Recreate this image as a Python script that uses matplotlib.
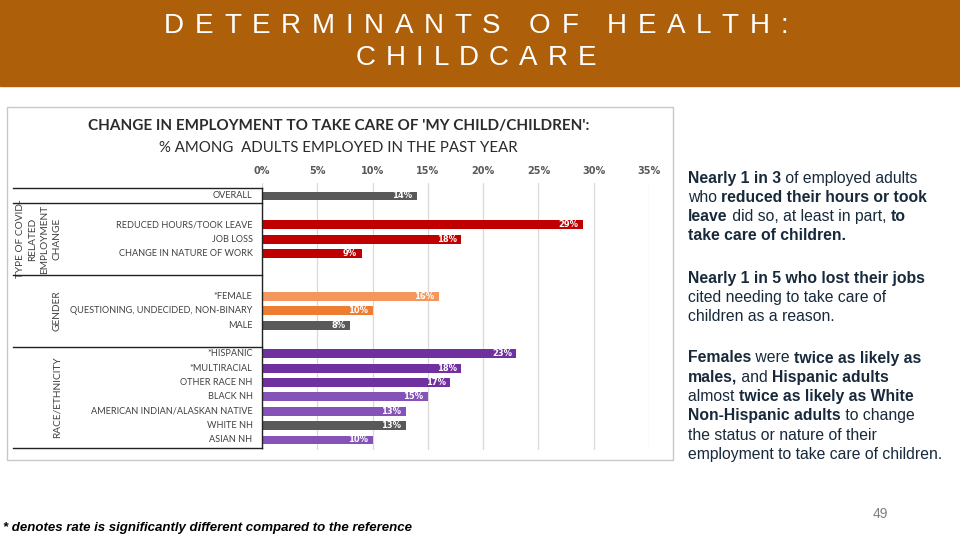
import matplotlib.pyplot as plt
from matplotlib.patches import Rectangle

# data
labels = ['OVERALL',
          'REDUCED HOURS/TOOK LEAVE', 'JOB LOSS', 'CHANGE IN NATURE OF WORK',
          '*FEMALE', 'QUESTIONING, UNDECIDED, NON-BINARY', 'MALE',
          '*HISPANIC', '*MULTIRACIAL', 'OTHER RACE NH', 'BLACK NH',
          'AMERICAN INDIAN/ALASKAN NATIVE', 'WHITE NH', 'ASIAN NH']
values = [14, 29, 18, 9, 16, 10, 8, 23, 18, 17, 15, 13, 13, 10]
rows = [0, 2, 3, 4, 7, 8, 9, 11, 12, 13, 14, 15, 16, 17]
colors = ['#595959',
          '#C00000', '#C00000', '#C00000',
          '#F4975E', '#ED7D31', '#595959',
          '#7030A0', '#7030A0', '#7030A0', '#8553B8', '#8553B8', '#595959', '#8553B8']
groups = ['TYPE OF COVID-\nRELATED\nEMPLOYMENT\nCHANGE', 'GENDER', 'RACE/ETHNICITY']
group_centers = [3, 8, 14]
separators = [-0.55, 0.5, 5.5, 10.5, 17.55]
ticks = [0, 5, 10, 15, 20, 25, 30, 35]

W, H = 960, 540
fig = plt.figure(figsize=(9.6, 5.4), dpi=100)
fig.patch.set_facecolor('white')

# header band
fig.patches.append(Rectangle((0, 1 - 86 / H), 1, 86 / H, transform=fig.transFigure,
                             color='#AD5F09', zorder=-2))
# chart panel frame
fig.patches.append(Rectangle((7 / W, 1 - 460 / H), 666 / W, 353 / H, transform=fig.transFigure,
                             facecolor='white', edgecolor='#C8C8C8', lw=1, zorder=-2))
fig.text(88 / W, 1 - 126 / H, "CHANGE IN EMPLOYMENT TO TAKE CARE OF 'MY CHILD/CHILDREN':",
         ha='left', va='center', fontsize=11, weight='bold', color='#2B2B2B', family='Lato')
fig.text(338 / W, 1 - 148 / H, "% AMONG  ADULTS EMPLOYED IN THE PAST YEAR",
         ha='center', va='center', fontsize=10.8, color='#2B2B2B', family='Lato')

x0, x1 = 262, 649
top, bot = 183, 450
ax = fig.add_axes([x0 / W, 1 - bot / H, (x1 - x0) / W, (bot - top) / H])
row_px = (440 - 196) / 17
ax.set_xlim(0, 35)
ax.set_ylim(rows[0] + (bot - 196) / row_px, rows[0] - (196 - top) / row_px)
ax.barh(rows, values, height=0.62, color=colors, zorder=3)
for r, v in zip(rows, values):
    ax.text(v - 0.4, r, f'{v}%', ha='right', va='center', color='white',
            fontsize=6, weight='bold', family='DejaVu Sans', zorder=4)
for r, lab in zip(rows, labels):
    ax.text(-0.85, r, lab, ha='right', va='center', fontsize=6.6, color='#404040',
            family='Lato', clip_on=False)
ax.set_xticks(ticks)
ax.set_xticklabels([f'{t}%' for t in ticks])
ax.xaxis.tick_top()
ax.tick_params(axis='x', length=0, pad=5, labelsize=7, labelcolor='#595959')
for lab in ax.get_xticklabels():
    lab.set_fontweight('bold')
ax.set_yticks([])
ax.grid(axis='x', color='#D9D9D9', lw=0.9, zorder=0)
for s in ax.spines.values():
    s.set_visible(False)
ax.patch.set_alpha(0)

# label box lines
px = (x1 - x0) / 35
xl = -(x0 - 13) / px
for sy in separators:
    ax.plot([xl, 0], [sy, sy], color='#222222', lw=1, clip_on=False, zorder=5)
ax.plot([0, 0], [separators[0], separators[-1]], color='#222222', lw=1, clip_on=False, zorder=5)
gx = [-(x0 - 39) / px, -(x0 - 57) / px, -(x0 - 57) / px]
for g, c, xx in zip(groups, group_centers, gx):
    ax.text(xx, c, g, rotation=90, ha='center', va='center', fontsize=7.3,
            color='#404040', family='Lato', linespacing=1.45, clip_on=False,
            multialignment='center')

fig.canvas.draw()
rend = fig.canvas.get_renderer()

# header title, letters placed one by one with wide tracking
def tracked(text, xc, yy, size, track):
    parts = []
    for ch in text:
        t = fig.text(0, 1 - yy / H, ch, ha='left', va='center', color='white',
                     fontsize=size, family='Liberation Sans')
        w = t.get_window_extent(rend).width if ch != ' ' else size * 0.35
        parts.append((t, w))
    total = sum(w for _, w in parts) + track * (len(parts) - 1)
    xx = xc - total / 2
    for t, w in parts:
        t.set_x(xx / W)
        xx += w + track

tracked('DETERMINANTS OF HEALTH:', 476, 26, 20, 10.7)
tracked('CHILDCARE', 476, 58, 20, 10.0)

# right-hand notes with mixed bold runs
paras = [
    [[('Nearly 1 in 3', True), (' of employed adults', False)],
     [('who ', False), ('reduced their hours or took', True)],
     [('leave', True), (' did so, at least in part, ', False), ('to', True)],
     [('take care of children.', True)]],
    [[('Nearly 1 in 5 who lost their jobs', True)],
     [('cited needing to take care of', False)],
     [('children as a reason.', False)]],
    [[('Females', True), (' were ', False), ('twice as likely as', True)],
     [('males,', True), (' and ', False), ('Hispanic adults', True)],
     [('almost ', False), ('twice as likely as White', True)],
     [('Non-Hispanic adults', True), (' to change', False)],
     [('the status or nature of their', False)],
     [('employment to take care of children.', False)]],
]
para_tops = [178, 278, 358]
line_h = 19.3
for ptop, para in zip(para_tops, paras):
    for i, line in enumerate(para):
        xx = 688
        yy = ptop + i * line_h
        for txt, bold in line:
            t = fig.text(xx / W, 1 - yy / H, txt, ha='left', va='center', fontsize=11.3,
                         weight='bold' if bold else 'normal', color='#17293B',
                         family='Liberation Sans')
            xx += t.get_window_extent(rend).width

fig.text(3 / W, 1 - 528 / H, '* denotes rate is significantly different compared to the reference',
         ha='left', va='center', fontsize=9.5, weight='bold', style='italic', color='black',
         family='Liberation Sans')
fig.text(880 / W, 1 - 514 / H, '49', ha='center', va='center', fontsize=10, color='#7F7F7F',
         family='Liberation Sans')

fig.savefig('out.png', dpi=100)
